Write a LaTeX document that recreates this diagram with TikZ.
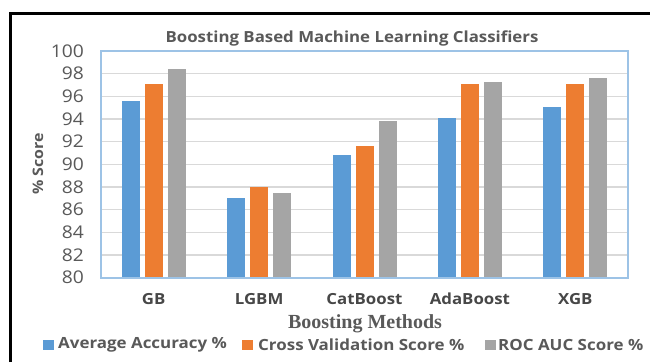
\documentclass[tikz,border=0pt]{standalone}
\usepackage{fontspec}
\setmainfont{Open Sans}[FakeStretch=1.1]
\newfontfamily\axisserif{Liberation Serif}
\definecolor{sblue}{HTML}{5B9BD5}
\definecolor{sorange}{HTML}{ED7D31}
\definecolor{sgray}{HTML}{A5A5A5}
\definecolor{gridc}{HTML}{D9D9D9}
\definecolor{boxc}{HTML}{9DC3E6}
\definecolor{txt}{HTML}{595959}
\begin{document}
\begin{tikzpicture}[x=1pt,y=-1pt,
  gridline/.style={draw=gridc, line width=1.6pt},
  ticklab/.style={text=txt, font=\fontsize{17.5}{17.5}\selectfont, inner sep=0pt, anchor=east},
  catlab/.style={text=txt!80!black, font=\bfseries\fontsize{15.3}{15.3}\selectfont, inner sep=0pt},
  legtext/.style={text=txt, font=\bfseries\fontsize{15.4}{15.4}\selectfont, inner sep=0pt, anchor=west},
  legkey/.style={minimum width=11pt, minimum height=10pt, inner sep=0pt, anchor=west}]
\useasboundingbox (0,0) rectangle (650,362);
\fill[white] (0,0) rectangle (650,362);
% outer frame
\draw[line width=3.5pt] (10.5,362) -- (10.5,13.5) -- (650,13.5);
% title
\node[text=txt, font=\bfseries\fontsize{15.3}{15.3}\selectfont, inner sep=0pt] (title) at (352,38) {Boosting Based Machine Learning Classifiers};
% gridlines
\foreach \v in {82,84,...,98} {
  \draw[gridline] (101,{277.7-(\v-80)*11.335}) -- (628,{277.7-(\v-80)*11.335});
}
% bars
\foreach \i/\a/\b/\c in {0/95.6/97.1/98.4, 1/87.0/88.0/87.5, 2/90.8/91.6/93.8, 3/94.1/97.1/97.3, 4/95.1/97.1/97.6} {
  \pgfmathsetmacro{\cx}{101+105.4*(\i+0.5)}
  \fill[sblue] ({\cx-23-9},277.7) rectangle ({\cx-23+9},{277.7-(\a-80)*11.335});
  \fill[sorange] ({\cx-9},277.7) rectangle ({\cx+9},{277.7-(\b-80)*11.335});
  \fill[sgray] ({\cx+23-9},277.7) rectangle ({\cx+23+9},{277.7-(\c-80)*11.335});
}
% plot box
\draw[boxc, line width=2pt] (101,51) rectangle (628,277.7);
% tick labels
\foreach \v in {80,82,...,100} {
  \node[ticklab] (t\v) at (84,{277.7-(\v-80)*11.335}) {\v};
}
% y axis title
\node[text=txt, font=\bfseries\fontsize{14.5}{14.5}\selectfont, inner sep=0pt, rotate=90] (ytitle) at (38,164) {\% Score};
% category labels
\node[catlab] (gb) at (153.7,299) {GB};
\node[catlab] (lgbm) at (259.1,299) {LGBM};
\node[catlab] (cat) at (364.5,299) {CatBoost};
\node[catlab] (ada) at (469.9,299) {AdaBoost};
\node[catlab] (xgb) at (575.3,299) {XGB};
% x axis title
\node[text=txt, font=\axisserif\bfseries\fontsize{20}{20}\selectfont, inner sep=0pt] (xtitle) at (365,324) {Boosting Methods};
% legend
\node[legkey, fill=sblue] (k1) at (43,345) {};
\node[legtext] (l1) at (58,345) {Average Accuracy \%};
\node[legkey, fill=sorange] (k2) at (242,345) {};
\node[legtext] (l2) at (258,345) {Cross Validation Score \%};
\node[legkey, fill=sgray] (k3) at (485,345) {};
\node[legtext] (l3) at (498,345) {ROC AUC Score \%};
\end{tikzpicture}
\end{document}
